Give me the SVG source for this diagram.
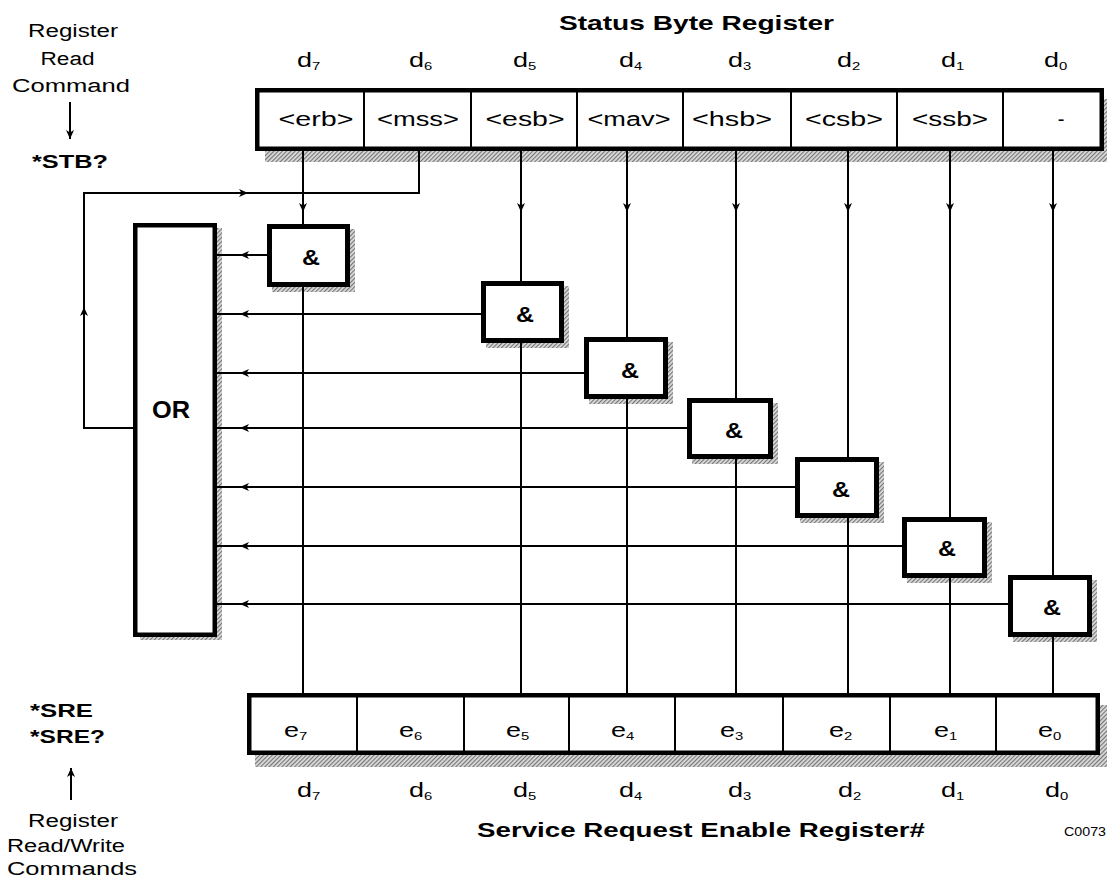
<svg xmlns="http://www.w3.org/2000/svg" width="1107" height="886" viewBox="0 0 1107 886">
<defs>
<style>
.t{font-family:"Liberation Sans",Arial,Helvetica,sans-serif;fill:#000}
.b{font-weight:bold}
.box{fill:#fff;stroke:#000;stroke-width:4.5}
.gate{fill:#fff;stroke:#000;stroke-width:5}
.div{stroke:#000;stroke-width:2}
.sh{fill:url(#hatch)}
.ln{fill:none;stroke:#000;stroke-width:2}
.ar{fill:none;stroke:#000;stroke-width:2;marker-mid:url(#ah)}
.ae{fill:none;stroke:#000;stroke-width:2;marker-end:url(#ah)}
.cell{font-size:20px}
.lbl{font-size:20px;font-weight:normal}
.sub{font-size:11px;font-weight:normal}
.amp{font-size:22px;font-weight:bold}
.side{font-size:18px}
</style>
<pattern id="hatch" width="3" height="3" patternUnits="userSpaceOnUse" patternTransform="rotate(45)">
<rect width="3" height="3" fill="#dcdcdc"/>
<line x1="0.6" y1="0" x2="0.6" y2="3" stroke="#707070" stroke-width="1.1"/>
</pattern>
<marker id="ah" markerWidth="10" markerHeight="8" refX="9" refY="4" orient="auto" markerUnits="userSpaceOnUse">
<path d="M0,0 L9,4 L0,8 L2.5,4 Z" fill="#000"/>
</marker>
</defs>
<rect width="1107" height="886" fill="#fff"/>

<g id="labels-left">
<text class="t side" x="73" y="37" text-anchor="middle" textLength="90" lengthAdjust="spacingAndGlyphs">Register</text>
<text class="t side" x="67.5" y="65" text-anchor="middle" textLength="54" lengthAdjust="spacingAndGlyphs">Read</text>
<text class="t side" x="71" y="92" text-anchor="middle" textLength="118" lengthAdjust="spacingAndGlyphs">Command</text>
<text class="t side b" x="70" y="168" text-anchor="middle" textLength="76" lengthAdjust="spacingAndGlyphs">*STB?</text>
<text class="t side b" x="30" y="717" textLength="63" lengthAdjust="spacingAndGlyphs">*SRE</text>
<text class="t side b" x="30" y="743" textLength="75" lengthAdjust="spacingAndGlyphs">*SRE?</text>
<text class="t side" x="73" y="827" text-anchor="middle" textLength="90" lengthAdjust="spacingAndGlyphs">Register</text>
<text class="t side" x="66" y="852" text-anchor="middle" textLength="118" lengthAdjust="spacingAndGlyphs">Read/Write</text>
<text class="t side" x="72" y="875" text-anchor="middle" textLength="130" lengthAdjust="spacingAndGlyphs">Commands</text>
<text class="t" x="1106" y="836" text-anchor="end" font-size="12" textLength="42" lengthAdjust="spacingAndGlyphs">C0073</text>
</g>

<g id="status-byte-register">
<text class="t b" x="696.5" y="30" text-anchor="middle" font-size="21" textLength="275" lengthAdjust="spacingAndGlyphs">Status Byte Register</text>
<g class="t lbl">
<text transform="translate(297,67) scale(1.35,1)">d<tspan class="sub" dy="3">7</tspan></text>
<text transform="translate(409,67) scale(1.35,1)">d<tspan class="sub" dy="3">6</tspan></text>
<text transform="translate(513,67) scale(1.35,1)">d<tspan class="sub" dy="3">5</tspan></text>
<text transform="translate(619,67) scale(1.35,1)">d<tspan class="sub" dy="3">4</tspan></text>
<text transform="translate(728,67) scale(1.35,1)">d<tspan class="sub" dy="3">3</tspan></text>
<text transform="translate(837,67) scale(1.35,1)">d<tspan class="sub" dy="3">2</tspan></text>
<text transform="translate(941,67) scale(1.35,1)">d<tspan class="sub" dy="3">1</tspan></text>
<text transform="translate(1044,67) scale(1.35,1)">d<tspan class="sub" dy="3">0</tspan></text>
</g>
<rect class="sh" x="265" y="99" width="849" height="63"/>
<rect class="box" x="257.25" y="90.25" width="844.5" height="58.5"/>
<path class="div" d="M364,90V149M471,90V149M577,90V149M683,90V149M791,90V149M897,90V149M1003,90V149"/>
<g class="t cell" text-anchor="middle">
<text x="316" y="126" textLength="75" lengthAdjust="spacingAndGlyphs">&lt;erb&gt;</text>
<text x="418" y="126" textLength="82" lengthAdjust="spacingAndGlyphs">&lt;mss&gt;</text>
<text x="525" y="126" textLength="79" lengthAdjust="spacingAndGlyphs">&lt;esb&gt;</text>
<text x="629" y="126" textLength="83" lengthAdjust="spacingAndGlyphs">&lt;mav&gt;</text>
<text x="732" y="126" textLength="80" lengthAdjust="spacingAndGlyphs">&lt;hsb&gt;</text>
<text x="844" y="126" textLength="78" lengthAdjust="spacingAndGlyphs">&lt;csb&gt;</text>
<text x="950" y="126" textLength="76" lengthAdjust="spacingAndGlyphs">&lt;ssb&gt;</text>
<text x="1061" y="126">-</text>
</g>
</g>

<g id="or-gate">
<rect class="sh" x="140" y="228" width="82" height="412"/>
<rect class="box" x="135.25" y="225.25" width="79.5" height="409.5"/>
<text class="t b" x="171" y="418" text-anchor="middle" font-size="23" textLength="38" lengthAdjust="spacingAndGlyphs">OR</text>
</g>

<g id="and7"><rect class="sh" x="272" y="229" width="83" height="63"/><rect class="gate" x="269.5" y="226.5" width="78" height="58"/><text class="t amp" x="311" y="265" text-anchor="middle" textLength="18" lengthAdjust="spacingAndGlyphs">&amp;</text></g>
<g id="and5"><rect class="sh" x="486" y="286" width="83" height="62"/><rect class="gate" x="483.5" y="283.5" width="78" height="57"/><text class="t amp" x="525" y="322" text-anchor="middle" textLength="18" lengthAdjust="spacingAndGlyphs">&amp;</text></g>
<g id="and4"><rect class="sh" x="589" y="342" width="84" height="62"/><rect class="gate" x="586.5" y="339.5" width="79" height="57"/><text class="t amp" x="630" y="378" text-anchor="middle" textLength="18" lengthAdjust="spacingAndGlyphs">&amp;</text></g>
<g id="and3"><rect class="sh" x="692" y="403" width="86" height="61"/><rect class="gate" x="689.5" y="400.5" width="81" height="56"/><text class="t amp" x="734" y="438" text-anchor="middle" textLength="18" lengthAdjust="spacingAndGlyphs">&amp;</text></g>
<g id="and2"><rect class="sh" x="800" y="462" width="84" height="61"/><rect class="gate" x="797.5" y="459.5" width="79" height="56"/><text class="t amp" x="841" y="497" text-anchor="middle" textLength="18" lengthAdjust="spacingAndGlyphs">&amp;</text></g>
<g id="and1"><rect class="sh" x="907" y="522" width="85" height="61"/><rect class="gate" x="904.5" y="519.5" width="80" height="56"/><text class="t amp" x="947" y="556" text-anchor="middle" textLength="18" lengthAdjust="spacingAndGlyphs">&amp;</text></g>
<g id="and0"><rect class="sh" x="1013" y="580" width="84" height="62"/><rect class="gate" x="1010.5" y="577.5" width="79" height="57"/><text class="t amp" x="1052" y="615" text-anchor="middle" textLength="18" lengthAdjust="spacingAndGlyphs">&amp;</text></g>

<g id="service-request-enable-register">
<rect class="sh" x="255" y="705" width="853" height="62"/>
<rect class="box" x="249.25" y="695.25" width="848.5" height="57.5"/>
<path class="div" d="M357,695V753M464,695V753M569,695V753M675,695V753M783,695V753M890,695V753M996,695V753"/>
<g class="t lbl">
<text transform="translate(284,737) scale(1.35,1)">e<tspan class="sub" dy="3">7</tspan></text>
<text transform="translate(399,737) scale(1.35,1)">e<tspan class="sub" dy="3">6</tspan></text>
<text transform="translate(506,737) scale(1.35,1)">e<tspan class="sub" dy="3">5</tspan></text>
<text transform="translate(611,737) scale(1.35,1)">e<tspan class="sub" dy="3">4</tspan></text>
<text transform="translate(720,737) scale(1.35,1)">e<tspan class="sub" dy="3">3</tspan></text>
<text transform="translate(829,737) scale(1.35,1)">e<tspan class="sub" dy="3">2</tspan></text>
<text transform="translate(934,737) scale(1.35,1)">e<tspan class="sub" dy="3">1</tspan></text>
<text transform="translate(1038,737) scale(1.35,1)">e<tspan class="sub" dy="3">0</tspan></text>
<text transform="translate(297,797) scale(1.35,1)">d<tspan class="sub" dy="3">7</tspan></text>
<text transform="translate(409,797) scale(1.35,1)">d<tspan class="sub" dy="3">6</tspan></text>
<text transform="translate(513,797) scale(1.35,1)">d<tspan class="sub" dy="3">5</tspan></text>
<text transform="translate(619,797) scale(1.35,1)">d<tspan class="sub" dy="3">4</tspan></text>
<text transform="translate(728,797) scale(1.35,1)">d<tspan class="sub" dy="3">3</tspan></text>
<text transform="translate(838,797) scale(1.35,1)">d<tspan class="sub" dy="3">2</tspan></text>
<text transform="translate(941,797) scale(1.35,1)">d<tspan class="sub" dy="3">1</tspan></text>
<text transform="translate(1045,797) scale(1.35,1)">d<tspan class="sub" dy="3">0</tspan></text>
</g>
<text class="t b" x="701" y="837" text-anchor="middle" font-size="21" textLength="448" lengthAdjust="spacingAndGlyphs">Service Request Enable Register#</text>
</g>

<g id="connectors">
<path class="ae" d="M70,102V139"/>
<path class="ae" d="M71,800V768"/>
<path class="ar" d="M303,151V212V224"/>
<path class="ar" d="M521,151V212V281"/>
<path class="ar" d="M627,151V212V337"/>
<path class="ar" d="M736,151V212V398"/>
<path class="ar" d="M848,151V212V457"/>
<path class="ar" d="M950,151V212V517"/>
<path class="ar" d="M1053,151V212V575"/>
<path class="ln" d="M303,287V693M521,343V693M627,399V693M736,459V693M848,518V693M950,578V693M1053,637V693"/>
<path class="ar" d="M267,255H240H217"/>
<path class="ar" d="M481,314H240H217"/>
<path class="ar" d="M584,373H240H217"/>
<path class="ar" d="M687,428H240H217"/>
<path class="ar" d="M795,487H240H217"/>
<path class="ar" d="M902,546H240H217"/>
<path class="ar" d="M1008,604H240H217"/>
<path class="ae" d="M133,428H84V307"/>
<path class="ae" d="M84,307V193H248"/>
<path class="ln" d="M248,193H419V151"/>
</g>
</svg>
